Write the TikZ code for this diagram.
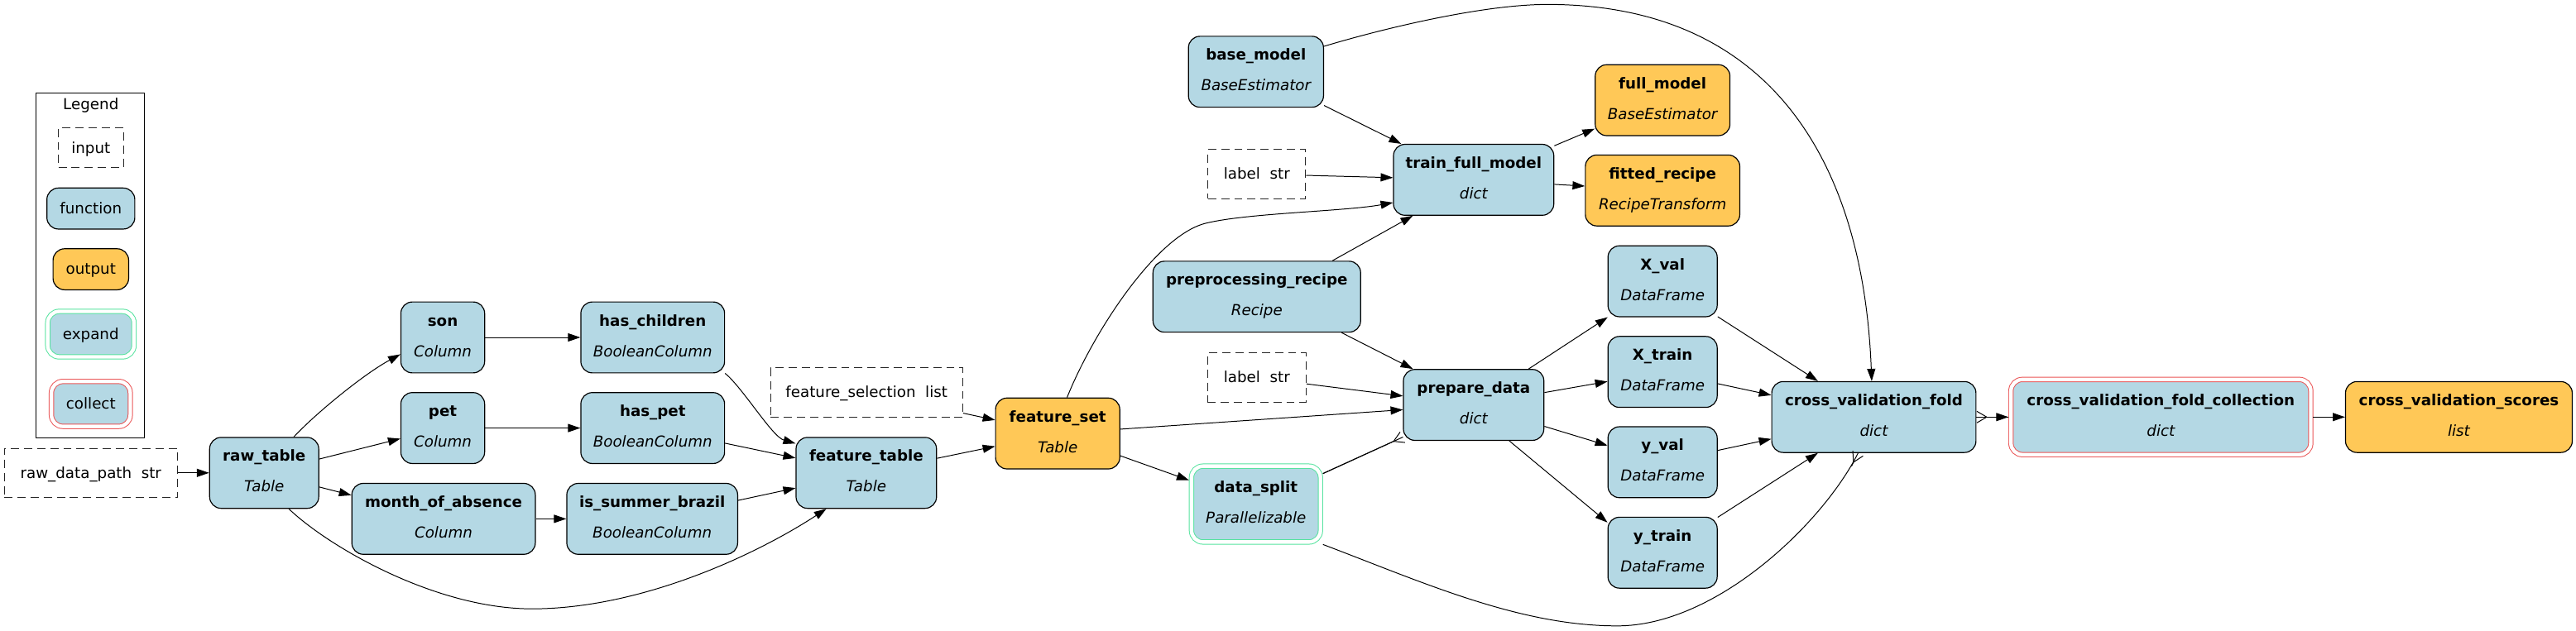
\documentclass[tikz,border=0pt]{standalone}
\usepackage{fontspec}
\setmainfont{DejaVu Sans}
\usetikzlibrary{arrows.meta}
\definecolor{fnblue}{HTML}{B4D8E4}
\definecolor{outorange}{HTML}{FFC857}
\definecolor{expgreen}{HTML}{56E39F}
\definecolor{colred}{HTML}{EA5556}
\newcommand{\fs}{\fontsize{9.2}{11}\selectfont}
\tikzset{
  basebox/.style={rectangle, rounded corners=7pt, inner sep=0pt, minimum height=43.2pt, line width=0.6pt},
  fnnode/.style={basebox, draw=black, fill=fnblue},
  outnode/.style={basebox, draw=black, fill=outorange},
  expnode/.style={basebox, draw=expgreen, fill=fnblue, double=white, double distance=2.2pt, line width=0.5pt, outer sep=1.5pt, minimum height=46.2pt},
  colnode/.style={basebox, draw=colred, fill=fnblue, double=white, double distance=2.2pt, line width=0.5pt, outer sep=1.5pt, minimum height=45.8pt},
  innode/.style={rectangle, draw=black!85, dash pattern=on 5pt off 3pt, line width=0.5pt, inner sep=0pt, minimum height=30pt},
  ttl/.style={anchor=base, inner sep=0pt, font=\fs\bfseries},
  typ/.style={anchor=base, inner sep=0pt, font=\fs\itshape},
  plain/.style={anchor=base, inner sep=0pt, font=\fs},
  edge/.style={line width=0.5pt, -{Triangle[length=7.5pt,width=5pt]}},
  line/.style={line width=0.5pt},
  crowtip/.style={line width=0.5pt, -{Straight Barb[reversed,length=6pt,width=7pt]}},
  crowedge/.style={line width=0.5pt, postaction={draw, line width=0.5pt, -{Straight Barb[reversed,length=6pt,width=7pt]}}},
  bothedge/.style={line width=0.5pt, -{Triangle[length=7.5pt,width=5pt]}, postaction={draw, line width=0.5pt, {Straight Barb[reversed,length=6pt,width=7pt]}-}},
}
\newcommand{\hn}[7]{%
  \node[#1, minimum width=#5pt] (#2) at (#3,#4) {};
  \node[ttl] (#2-t) at ([yshift=7pt]#2.center) {#6};
  \node[typ] (#2-y) at ([yshift=-11.6pt]#2.center) {#7};}
\newcommand{\inp}[5]{%
  \node[innode, minimum width=#4pt] (#1) at (#2,#3) {};
  \node[plain] (#1-t) at ([yshift=-3.2pt]#1.center) {#5};}
\begin{document}
\begin{tikzpicture}[x=1pt,y=-1pt]
\useasboundingbox (0,0) rectangle (1568,384);

% legend
\node[draw=black, line width=0.6pt, minimum width=66pt, minimum height=210pt, inner sep=0pt] (leg) at (55,161.5) {};
\node[plain] (legt) at (55.3,66.8) {Legend};
\node[innode, minimum width=39.5pt, minimum height=24.4pt] (lin) at (55.3,90) {};
\node[plain] (lin-t) at ([yshift=-3.2pt]lin.center) {input};
\node[fnnode, minimum width=53.5pt, minimum height=25pt] (lfn) at (55.3,127) {};
\node[plain] (lfn-t) at ([yshift=-3.2pt]lfn.center) {function};
\node[outnode, minimum width=46pt, minimum height=25pt] (lout) at (55.3,164) {};
\node[plain] (lout-t) at ([yshift=-3.2pt]lout.center) {output};
\node[expnode, minimum width=52.5pt, minimum height=27.7pt] (lexp) at (55.3,203.5) {};
\node[plain] (lexp-t) at ([yshift=-3.2pt]lexp.center) {expand};
\node[colnode, minimum width=48pt, minimum height=27.4pt] (lcol) at (55.3,246) {};
\node[plain] (lcol-t) at ([yshift=-3.2pt]lcol.center) {collect};

% inputs
\inp{in1}{55.3}{288}{105.5}{raw\_data\_path~~str}
\inp{fsel}{527.5}{239}{117}{feature\_selection~~list}
\inp{lab1}{765}{106}{59.5}{label~~str}
\inp{lab2}{765}{230}{60}{label~~str}

% function / output nodes
\hn{fnnode}{rt}{160.8}{288}{66.4}{raw\_table}{Table}
\hn{fnnode}{son}{269.5}{205.5}{51}{son}{Column}
\hn{fnnode}{pet}{269.5}{260.7}{51}{pet}{Column}
\hn{fnnode}{moa}{270}{316}{111.7}{month\_of\_absence}{Column}
\hn{fnnode}{hc}{397.3}{205.5}{87.5}{has\_children}{BooleanColumn}
\hn{fnnode}{hp}{397.3}{260.7}{87.5}{has\_pet}{BooleanColumn}
\hn{fnnode}{isb}{397}{316}{104}{is\_summer\_brazil}{BooleanColumn}
\hn{fnnode}{ft}{527.3}{288}{85.5}{feature\_table}{Table}
\hn{outnode}{fset}{643.8}{264}{75.6}{feature\_set}{Table}
\hn{expnode}{ds}{764.5}{307}{78.5}{data\_split}{Parallelizable}
\hn{fnnode}{pr}{765}{180.7}{126.4}{preprocessing\_recipe}{Recipe}
\hn{fnnode}{bm}{764.5}{43.7}{82.2}{base\_model}{BaseEstimator}
\hn{fnnode}{tfm}{897}{109.5}{97.6}{train\_full\_model}{dict}
\hn{outnode}{fm}{1012}{61}{82}{full\_model}{BaseEstimator}
\hn{outnode}{fr}{1012}{116}{94}{fitted\_recipe}{RecipeTransform}
\hn{fnnode}{pd}{897}{246.6}{85.5}{prepare\_data}{dict}
\hn{fnnode}{xv}{1012}{171.3}{66.5}{X\_val}{DataFrame}
\hn{fnnode}{xt}{1012}{226.5}{66.5}{X\_train}{DataFrame}
\hn{fnnode}{yv}{1012}{281.5}{66.5}{y\_val}{DataFrame}
\hn{fnnode}{yt}{1012}{336.6}{66.5}{y\_train}{DataFrame}
\hn{fnnode}{cvf}{1140.6}{254}{124.3}{cross\_validation\_fold}{dict}
\hn{colnode}{cvfc}{1315.3}{254}{182.5}{cross\_validation\_fold\_collection}{dict}
\hn{outnode}{cvs}{1496.7}{254}{138}{cross\_validation\_scores}{list}

% edges
\draw[edge] (in1) -- (rt);
\draw[edge] ([xshift=18pt]rt.north) .. controls (193,251) and (222,227.5) .. ([yshift=-10.3pt]son.west);
\draw[edge] (rt) -- (pet);
\draw[edge] (rt) -- (moa);
\draw[edge] ([xshift=15pt]rt.south) .. controls (200,333) and (265,370.8) .. (323.8,370.8)
  .. controls (390,370.8) and (460,338) .. ([xshift=-24.3pt]ft.south);
\draw[edge] (son) -- (hc);
\draw[edge] (pet) -- (hp);
\draw[edge] (moa) -- (isb);
\draw[edge] (hc.south east) .. controls (452,236) and (470,266) .. ([yshift=-4pt]ft.north west);
\draw[edge] (hp) -- (ft);
\draw[edge] (isb) -- (ft);
\draw[edge] (fsel) -- (fset);
\draw[edge] (ft) -- (fset);
\draw[edge] ([xshift=5.7pt]fset.north) .. controls (665.5,202.2) and (703.8,143.5) .. (733.8,136)
  .. controls (758.8,129.75) and (818,128.8) .. ([yshift=-13.9pt]tfm.west);
\draw[edge] (fset) -- (pd);
\draw[edge] (fset) -- (ds);
\draw[edge] (bm) -- (tfm);
\draw[edge] (lab1) -- (tfm);
\draw[edge] ([xshift=46pt]pr.north) -- ([xshift=-37pt]tfm.south);
\draw[edge] ([xshift=51.6pt]pr.south) -- ([xshift=-37pt]pd.north);
\draw[edge] (lab2) -- (pd);
\draw[crowedge] (ds) -- (pd);
\draw[edge] (pd) -- (xv);
\draw[edge] (pd) -- (xt);
\draw[edge] (pd) -- (yv);
\draw[edge] ([xshift=21.7pt]pd.south) -- ([yshift=18.4pt]yt.west);
\draw[edge] (xv) -- (cvf);
\draw[edge] (xt) -- (cvf);
\draw[edge] (yv) -- (cvf);
\draw[edge] (yt) -- (cvf);
\draw[edge] ([yshift=15.5pt]bm.east) .. controls (840.7,17.7) and (902,2.7) .. (942,2.7)
  .. controls (1075,2.7) and (1134,95) .. ([xshift=-1.3pt]cvf.north);
\coordinate (dsc) at (1110,318);
\draw[line] (ds.south east) .. controls (865.7,354.5) and (924.4,381.2) .. (984.4,381.2)
  .. controls (1045,381.2) and (dsc) .. ([xshift=-9.6pt]cvf.south);
\draw[crowtip, shorten <=38pt] (dsc) -- ([xshift=-9.6pt]cvf.south);
\draw[edge] (tfm) -- (fm);
\draw[edge] (tfm) -- (fr);
\draw[bothedge] (cvf) -- (cvfc);
\draw[edge] (cvfc) -- (cvs);
\end{tikzpicture}
\end{document}
